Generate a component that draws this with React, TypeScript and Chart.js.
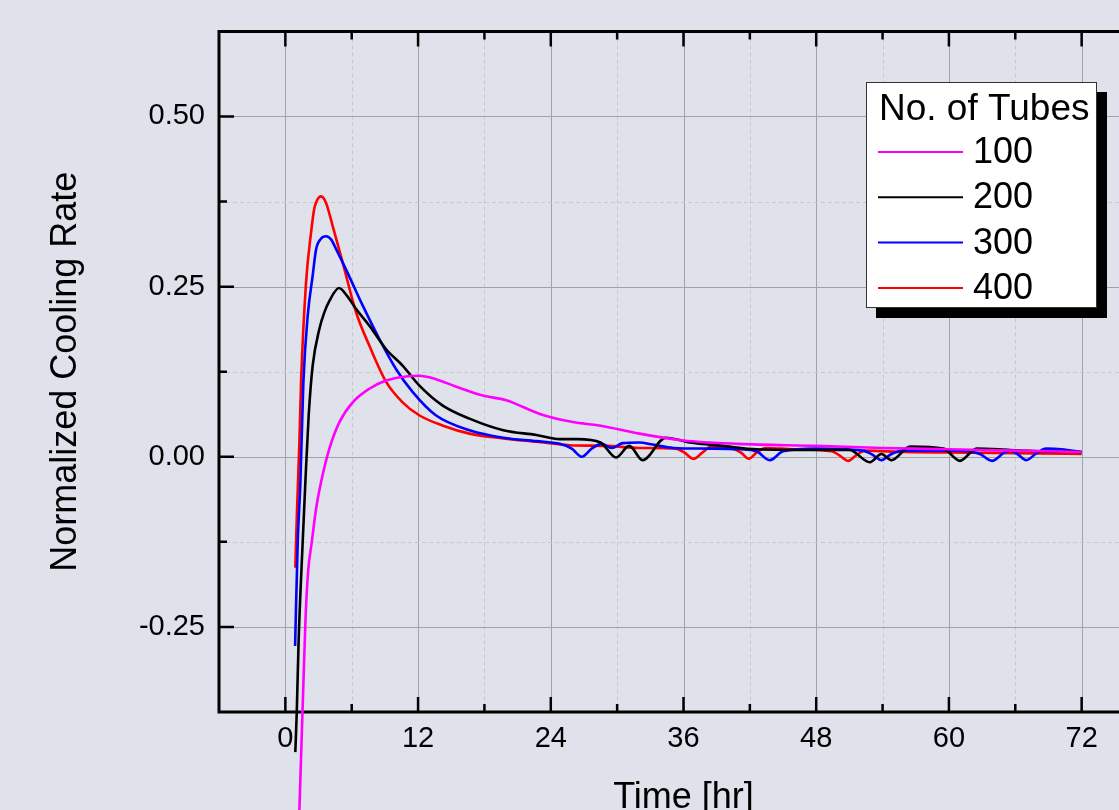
import { useEffect, useRef } from 'react';
import { Chart, registerables } from 'chart.js';

Chart.register(...registerables);

const FONT = '"Liberation Sans", Arial, Helvetica, sans-serif';

const legendTitle = 'No. of Tubes';
const xAxisTitle = 'Time [hr]';
const yAxisTitle = 'Normalized Cooling Rate';

const seriesLabels = ['100', '200', '300', '400'];
const seriesColors = ['#ff00ff', '#000000', '#0000ff', '#ff0000'];

const xMin = -6;
const xMax = 78;
const xStep = 6;
const xLabelEvery = 12;
const yMin = -0.375;
const yMax = 0.625;
const yStep = 0.125;
const yLabelEvery = 0.25;

const time100 = [0.9, 1.27, 1.57, 1.82, 2.05, 2.4, 2.78, 3.23, 3.98, 4.89, 6.09, 7.6, 9.11, 10.9, 12.1, 13.6, 15.45, 17.86, 19.97, 23, 26, 28.4, 32, 36, 41, 48, 54, 60, 66, 72];
const rate100 = [-0.75, -0.519, -0.365, -0.24, -0.17, -0.124, -0.076, -0.037, 0.012, 0.051, 0.08, 0.1, 0.112, 0.118, 0.119, 0.114, 0.103, 0.09, 0.083, 0.063, 0.051, 0.046, 0.034, 0.024, 0.019, 0.016, 0.013, 0.011, 0.009, 0.007];

const time200 = [0.9, 1.03, 1.2, 1.57, 1.81, 2.11, 2.47, 3.08, 3.5, 3.98, 4.85, 5.6, 6.4, 7.6, 9.11, 10.6, 12.1, 14.2, 16.65, 19.7, 22.7, 24.8, 26.4, 28.5, 29.9, 31.1, 32.3, 34.4, 36.6, 39.6, 42.6, 48, 51, 52.85, 53.9, 54.8, 56.5, 59.5, 61, 62.5, 65.5, 68.5, 72];
const rate200 = [-0.434, -0.376, -0.27, -0.124, -0.037, 0.061, 0.134, 0.188, 0.211, 0.229, 0.248, 0.236, 0.217, 0.1925, 0.158, 0.134, 0.105, 0.0756, 0.056, 0.039, 0.032, 0.026, 0.026, 0.021, -0.001, 0.016, -0.005, 0.028, 0.021, 0.016, 0.011, 0.01, 0.01, -0.008, 0.004, -0.005, 0.015, 0.012, -0.006, 0.012, 0.01, 0.008, 0.007];

const time300 = [0.88, 1.12, 1.36, 1.63, 2.02, 2.47, 2.78, 3.2, 3.68, 4.15, 4.59, 5.49, 7.0, 8.5, 10.0, 11.52, 13.6, 16.65, 19.7, 22.7, 24.8, 25.9, 26.8, 27.7, 28.6, 29.5, 30.5, 32.0, 33.2, 35.1, 38.1, 41.1, 42.6, 43.8, 45.0, 48, 52.2, 53.0, 53.9, 54.8, 55.8, 60.9, 62.8, 63.9, 65.0, 65.6, 66.2, 67.0, 67.9, 68.8, 70.2, 72];
const rate300 = [-0.278, -0.124, -0.037, 0.11, 0.207, 0.266, 0.305, 0.32, 0.324, 0.319, 0.305, 0.275, 0.222, 0.173, 0.129, 0.095, 0.061, 0.039, 0.028, 0.023, 0.019, 0.012, 0.0, 0.012, 0.019, 0.013, 0.02, 0.021, 0.018, 0.013, 0.012, 0.011, 0.008, -0.005, 0.008, 0.012, 0.009, 0.004, -0.005, 0.004, 0.009, 0.009, 0.004, -0.006, 0.006, 0.009, 0.004, -0.005, 0.005, 0.012, 0.011, 0.007];

const time400 = [0.9, 1.06, 1.27, 1.42, 1.87, 2.32, 2.62, 2.9, 3.23, 3.68, 4.28, 5.19, 6.4, 7.6, 9.11, 10.6, 12.1, 14.2, 16.65, 19.7, 22.7, 25.7, 29, 32, 35.3, 36.1, 36.9, 37.7, 38.5, 40.4, 41.2, 41.9, 42.6, 43.4, 46, 49.4, 50.1, 50.9, 51.6, 52.4, 56, 62, 68, 72];
const rate400 = [-0.163, -0.076, 0.022, 0.11, 0.256, 0.329, 0.365, 0.378, 0.3826, 0.373, 0.339, 0.285, 0.212, 0.163, 0.11, 0.08, 0.061, 0.046, 0.034, 0.027, 0.022, 0.017, 0.016, 0.013, 0.012, 0.006, -0.003, 0.006, 0.015, 0.012, 0.006, -0.003, 0.006, 0.013, 0.011, 0.008, 0.002, -0.006, 0.002, 0.009, 0.007, 0.006, 0.005, 0.004];

const seriesTimes = [time100, time200, time300, time400];
const seriesRates = [rate100, rate200, rate300, rate400];

const isMultiple = (v: number, step: number) => Math.abs(v / step - Math.round(v / step)) < 1e-9;

const framePlugin = {
  id: 'originFrame',
  beforeDatasetsDraw(chart: any) {
    const { ctx, chartArea: a, scales } = chart;
    const xs = scales.x;
    const ys = scales.y;
    ctx.save();
    ctx.lineWidth = 1;
    for (const t of xs.ticks) {
      const v = t.value;
      if (v <= xs.min || v >= xs.max) continue;
      const p = Math.round(xs.getPixelForValue(v)) + 0.5;
      const major = isMultiple(v, xLabelEvery);
      ctx.strokeStyle = major ? '#a2a2a6' : '#c6c8ce';
      ctx.setLineDash(major ? [] : [4, 3]);
      ctx.beginPath();
      ctx.moveTo(p, a.top);
      ctx.lineTo(p, a.bottom);
      ctx.stroke();
    }
    for (const t of ys.ticks) {
      const v = t.value;
      if (v <= ys.min || v >= ys.max) continue;
      const p = Math.round(ys.getPixelForValue(v)) + 0.5;
      const major = isMultiple(v, yLabelEvery);
      ctx.strokeStyle = major ? '#a2a2a6' : '#c6c8ce';
      ctx.setLineDash(major ? [] : [4, 3]);
      ctx.beginPath();
      ctx.moveTo(a.left, p);
      ctx.lineTo(a.right, p);
      ctx.stroke();
    }
    ctx.setLineDash([]);
    ctx.strokeStyle = '#000';
    ctx.lineWidth = 3;
    ctx.beginPath();
    ctx.moveTo(a.right, a.top);
    ctx.lineTo(a.left - 1.5, a.top);
    ctx.moveTo(a.left, a.top);
    ctx.lineTo(a.left, a.bottom);
    ctx.moveTo(a.left - 1.5, a.bottom);
    ctx.lineTo(a.right, a.bottom);
    ctx.stroke();
    ctx.lineWidth = 2.5;
    ctx.beginPath();
    for (const t of xs.ticks) {
      const v = t.value;
      if (v <= xs.min || v >= xs.max) continue;
      const p = xs.getPixelForValue(v);
      const len = isMultiple(v, xLabelEvery) ? 15 : 8;
      ctx.moveTo(p, a.bottom);
      ctx.lineTo(p, a.bottom - len);
      ctx.moveTo(p, a.top);
      ctx.lineTo(p, a.top + len);
    }
    for (const t of ys.ticks) {
      const v = t.value;
      if (v <= ys.min || v >= ys.max) continue;
      const p = ys.getPixelForValue(v);
      const len = isMultiple(v, yLabelEvery) ? 15 : 8;
      ctx.moveTo(a.left, p);
      ctx.lineTo(a.left + len, p);
      ctx.moveTo(a.right, p);
      ctx.lineTo(a.right - len, p);
    }
    ctx.stroke();
    ctx.restore();
  },
  afterDatasetsDraw(chart: any) {
    const { ctx, chartArea: a } = chart;
    ctx.save();
    ctx.fillStyle = '#000';
    ctx.font = `36px ${FONT}`;
    ctx.textAlign = 'center';
    ctx.textBaseline = 'alphabetic';
    ctx.fillText(xAxisTitle, (a.left + a.right) / 2, 808);
    ctx.save();
    ctx.translate(66, (a.top + a.bottom) / 2);
    ctx.rotate(-Math.PI / 2);
    ctx.textBaseline = 'middle';
    ctx.fillText(yAxisTitle, 0, 0);
    ctx.restore();

    const bx = 866;
    const by = 82;
    const bw = 231;
    const bh = 226;
    ctx.fillStyle = '#000';
    ctx.fillRect(bx + 10, by + 10, bw, bh);
    ctx.fillStyle = '#fff';
    ctx.fillRect(bx, by, bw, bh);
    ctx.strokeStyle = '#333';
    ctx.lineWidth = 1;
    ctx.strokeRect(bx + 0.5, by + 0.5, bw - 1, bh - 1);
    ctx.fillStyle = '#000';
    ctx.font = `37px ${FONT}`;
    ctx.textAlign = 'left';
    ctx.textBaseline = 'alphabetic';
    ctx.fillText(legendTitle, bx + 13, by + 38);
    ctx.font = `36px ${FONT}`;
    const dsets = chart.data.datasets;
    dsets.forEach((ds: any, i: number) => {
      const ly = by + 70 + i * 45.3;
      ctx.strokeStyle = ds.borderColor;
      ctx.lineWidth = 2;
      ctx.beginPath();
      ctx.moveTo(bx + 12, ly);
      ctx.lineTo(bx + 97, ly);
      ctx.stroke();
      ctx.fillStyle = '#000';
      ctx.textBaseline = 'middle';
      ctx.fillText(ds.label, bx + 107, ly + 1);
    });
    ctx.restore();
  },
};

export default function App() {
  const ref = useRef<HTMLCanvasElement | null>(null);

  useEffect(() => {
    if (!ref.current) return;
    const datasets = seriesLabels.map((label, i) => ({
      label,
      data: seriesTimes[i].map((t, j) => ({ x: t, y: seriesRates[i][j] })),
      borderColor: seriesColors[i],
      backgroundColor: seriesColors[i],
      borderWidth: 2.6,
      pointRadius: 0,
      cubicInterpolationMode: 'monotone' as const,
      fill: false,
      clip: false as const,
    }));
    const chart = new Chart(ref.current, {
      type: 'line',
      data: { datasets },
      plugins: [framePlugin],
      options: {
        responsive: false,
        animation: false,
        layout: { padding: { top: 28, right: 52, left: 0, bottom: 0 } },
        plugins: { legend: { display: false }, tooltip: { enabled: false } },
        scales: {
          x: {
            type: 'linear',
            position: 'bottom',
            min: xMin,
            max: xMax,
            afterFit: (s: any) => {
              s.height = 98;
            },
            grid: { display: false, drawTicks: false },
            border: { display: false },
            ticks: {
              stepSize: xStep,
              autoSkip: false,
              maxRotation: 0,
              padding: 10,
              color: '#000',
              font: { family: FONT, size: 29 },
              callback: (v: any) => (isMultiple(Number(v), xLabelEvery) ? String(v) : ''),
            },
          },
          y: {
            type: 'linear',
            min: yMin,
            max: yMax,
            afterFit: (s: any) => {
              s.width = 219;
            },
            grid: { display: false, drawTicks: false },
            border: { display: false },
            ticks: {
              stepSize: yStep,
              autoSkip: false,
              padding: 14,
              color: '#000',
              font: { family: FONT, size: 29 },
              callback: (v: any) => (isMultiple(Number(v), yLabelEvery) ? Number(v).toFixed(2) : ''),
            },
          },
        },
      },
    });
    return () => chart.destroy();
  }, []);

  return (
    <div
      style={{
        position: 'fixed',
        left: 0,
        top: 0,
        width: 1119,
        height: 810,
        overflow: 'hidden',
        background: '#dfe2eb',
      }}
    >
      <canvas ref={ref} width={1200} height={810} style={{ display: 'block', width: 1200, height: 810 }} />
    </div>
  );
}
